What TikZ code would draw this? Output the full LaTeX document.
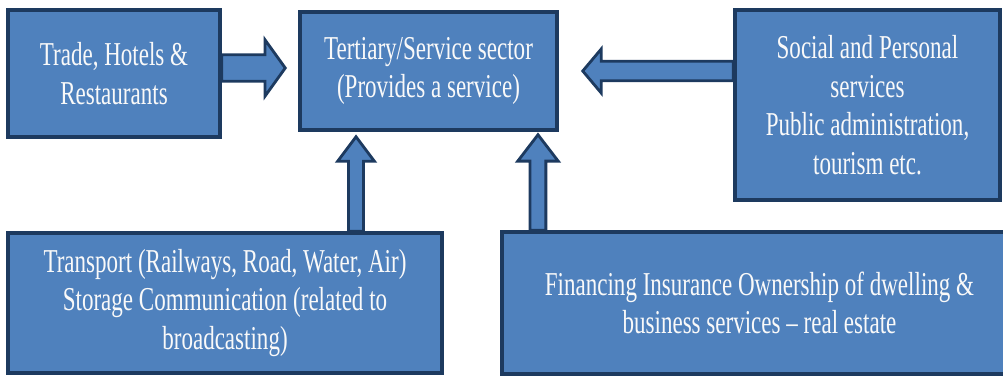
\documentclass[tikz,border=0pt]{standalone}
\usepackage{fontspec}
\setmainfont{Liberation Serif}[FakeStretch=0.69]
\usepackage{tikz}
\usetikzlibrary{calc}

\definecolor{boxblue}{HTML}{4F81BD}
\definecolor{boxedge}{HTML}{1D3A5F}

\begin{document}
\begin{tikzpicture}[x=0.02cm, y=-0.02cm, every node/.style={font=\fontsize{19}{22}\selectfont}]

% Styles
\tikzstyle{box} = [draw=boxedge, line width=2pt, fill=boxblue, text=white!95!gray, align=center, inner sep=0pt]
\tikzset{blockarrow/.style n args={3}{draw=boxedge, fill=boxblue, line width=1.6pt, line join=miter,
  to path={let \p1=(\tikztostart), \p2=(\tikztotarget), \n1={atan2(\y2-\y1,\x2-\x1)} in
    ($(\p1)+(\n1+90:#1)$) -- ($(\p2)+(\n1+180:#3)+(\n1+90:#1)$) -- ($(\p2)+(\n1+180:#3)+(\n1+90:#2)$)
    -- (\p2) -- ($(\p2)+(\n1+180:#3)+(\n1-90:#2)$) -- ($(\p2)+(\n1+180:#3)+(\n1-90:#1)$)
    -- ($(\p1)+(\n1-90:#1)$) -- cycle}}}

\useasboundingbox (0,0) rectangle (1003,375);

% Nodes
\node[box, minimum width=4.24cm, minimum height=2.54cm] (trade) at (114,73.5) {Trade, Hotels \&\\Restaurants};
\node[box, minimum width=5.14cm, minimum height=2.36cm] (tertiary) at (428.5,71) {Tertiary/Service sector\\(Provides a service)};
\node[box, minimum width=5.3cm, minimum height=3.8cm] (social) at (867.5,105) {Social and Personal\\services\\Public administration,\\tourism etc.};
\node[box, minimum width=8.68cm, minimum height=2.8cm] (transport) at (225,303) {Transport (Railways, Road, Water, Air)\\Storage Communication (related to\\broadcasting)};
\node[box, minimum width=10.3cm, minimum height=2.84cm] (finance) at (759.5,303) {Financing Insurance Ownership of dwelling \&\\business services – real estate};

% Arrows
\draw[blockarrow={7.5pt}{16pt}{11.5pt}] ([yshift=0.06cm]trade.east |- tertiary.west) to ([xshift=-0.26cm, yshift=0.06cm]tertiary.west);
\draw[blockarrow={5.6pt}{12.5pt}{10.5pt}] (social.west |- tertiary.east) to ([xshift=0.48cm]tertiary.east);
\draw[blockarrow={4.3pt}{10.5pt}{14pt}] ($(tertiary.south |- transport.north)+(-1.45cm,0pt)$) to ($(tertiary.south)+(-1.45cm,-0.1cm)$);
\draw[blockarrow={4.5pt}{11.5pt}{15pt}] ($(tertiary.south |- finance.north)+(2.19cm,0pt)$) to ($(tertiary.south)+(2.19cm,-0.06cm)$);

\end{tikzpicture}
\end{document}
